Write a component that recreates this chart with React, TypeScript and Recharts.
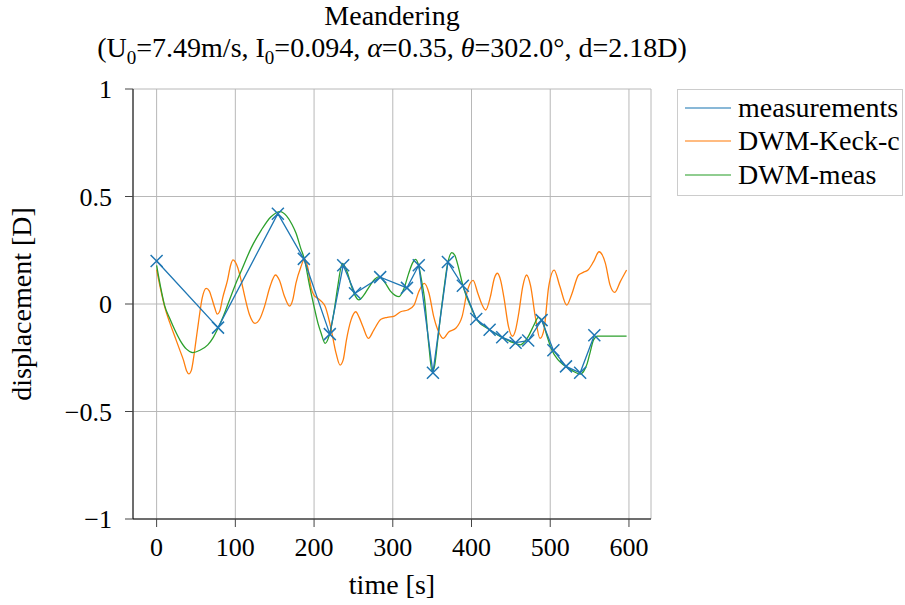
import React from 'react';
import { LineChart, Line, XAxis, YAxis, CartesianGrid } from 'recharts';

// measured displacement (crosses)
const measTime = [0, 78, 154, 187, 220, 237, 252, 284, 318, 333, 351, 370, 389, 406, 423, 439, 456, 472, 489, 504, 520, 538, 556];
const measValue = [0.2, -0.11, 0.42, 0.21, -0.14, 0.18, 0.05, 0.125, 0.075, 0.18, -0.32, 0.195, 0.085, -0.07, -0.12, -0.155, -0.18, -0.17, -0.075, -0.215, -0.29, -0.32, -0.145];

// DWM-Keck-c
const keckTime = [0, 5, 10, 17, 23, 29, 34, 38, 41, 44, 47, 50, 53, 58, 63, 67, 70, 74, 77, 80, 84, 90, 94, 97, 100, 103, 108, 112, 118, 125, 131, 137, 144, 151, 156, 162, 169, 173, 177, 183, 188, 192, 196, 200, 205, 210, 214, 221, 228, 233, 237, 241, 247, 253, 257, 262, 269, 276, 285, 293, 302, 310, 319, 327, 333, 340, 346, 352, 359, 364, 371, 380, 388, 395, 402, 408, 413, 418, 424, 429, 433, 437, 441, 447, 452, 456, 460, 465, 470, 475, 481, 487, 492, 498, 505, 512, 521, 527, 536, 542, 548, 555, 562, 570, 576, 582, 589, 597];
const keckValue = [0.16, 0.07, -0.01, -0.09, -0.15, -0.21, -0.26, -0.31, -0.325, -0.31, -0.25, -0.17, -0.09, 0.03, 0.073, 0.06, 0.028, -0.02, -0.047, -0.035, 0.03, 0.11, 0.18, 0.205, 0.195, 0.17, 0.1, 0.034, -0.05, -0.09, -0.07, -0.012, 0.08, 0.135, 0.11, 0.04, -0.01, 0.02, 0.097, 0.17, 0.21, 0.17, 0.08, 0.04, 0.026, 0.01, -0.01, -0.105, -0.23, -0.284, -0.26, -0.17, -0.074, -0.036, -0.06, -0.105, -0.16, -0.12, -0.071, -0.062, -0.056, -0.036, -0.028, -0.005, 0.057, 0.096, 0.05, -0.059, -0.136, -0.16, -0.13, -0.113, -0.059, 0.065, 0.11, 0.05, 0.0, -0.028, 0.034, 0.12, 0.143, 0.11, 0.034, -0.105, -0.15, -0.12, -0.043, 0.08, 0.135, 0.085, -0.059, -0.16, -0.12, 0.08, 0.158, 0.085, -0.005, 0.042, 0.135, 0.147, 0.158, 0.197, 0.243, 0.19, 0.088, 0.054, 0.104, 0.158];

// DWM-meas
const dwmTime = [0, 5, 10, 17, 23, 30, 38, 46, 55, 65, 72, 78, 85, 91, 100, 108, 120, 133, 145, 157, 165, 172, 177, 183, 188, 194, 200, 205, 209, 214, 218, 221, 226, 230, 236, 242, 247, 252, 257, 263, 270, 277, 283, 290, 297, 303, 308, 314, 320, 325, 329, 333, 337, 340, 346, 350, 353, 357, 361, 365, 369, 375, 379, 382, 390, 399, 407, 420, 437, 453, 462, 472, 479, 485, 491, 496, 502, 510, 517, 528, 538, 543, 547, 551, 555, 560, 597];
const dwmValue = [0.18, 0.08, -0.005, -0.07, -0.12, -0.17, -0.21, -0.226, -0.215, -0.19, -0.155, -0.113, -0.055, 0.003, 0.09, 0.158, 0.26, 0.344, 0.405, 0.43, 0.41, 0.37, 0.33, 0.26, 0.205, 0.09, -0.012, -0.09, -0.136, -0.183, -0.16, -0.12, -0.02, 0.08, 0.189, 0.15, 0.088, 0.04, 0.019, 0.04, 0.08, 0.115, 0.127, 0.1, 0.06, 0.04, 0.034, 0.07, 0.14, 0.19, 0.208, 0.177, 0.1, 0.034, -0.2, -0.315, -0.29, -0.17, -0.043, 0.07, 0.174, 0.239, 0.225, 0.19, 0.073, -0.012, -0.074, -0.113, -0.152, -0.18, -0.19, -0.152, -0.1, -0.062, -0.09, -0.15, -0.214, -0.26, -0.284, -0.31, -0.326, -0.31, -0.276, -0.22, -0.167, -0.149, -0.149];

const xTicks = [0, 100, 200, 300, 400, 500, 600];
const yTicks = [-1, -0.5, 0, 0.5, 1];

const seriesNames = ['measurements', 'DWM-Keck-c', 'DWM-meas'];
const seriesColors = ['#1f77b4', '#ff7f0e', '#2ca02c'];

const measData = measTime.map((t, i) => ({ t, v: measValue[i] }));
const keckData = keckTime.map((t, i) => ({ t, v: keckValue[i] }));
const dwmData = dwmTime.map((t, i) => ({ t, v: dwmValue[i] }));

const FONT = '"Liberation Serif", "Times New Roman", "DejaVu Serif", serif';

const Cross = (props: any) => {
  const { cx, cy } = props;
  if (cx == null || cy == null) return null;
  const s = 6;
  return (
    <path
      d={`M${cx - s},${cy - s}L${cx + s},${cy + s}M${cx - s},${cy + s}L${cx + s},${cy - s}`}
      stroke={seriesColors[0]}
      strokeWidth={1.5}
      fill="none"
    />
  );
};

const fmt = (v: number) => (v < 0 ? '\u2212' + Math.abs(v) : String(v));

export default function App() {
  return (
    <div style={{ position: 'absolute', left: 0, top: 0, width: 905, height: 605, background: '#fff', fontFamily: FONT, color: '#000' }}>
      <div
        style={{
          position: 'absolute',
          left: 0,
          width: 784,
          top: 0,
          textAlign: 'center',
          fontSize: 28,
          lineHeight: '32px',
        }}
      >
        <div>Meandering</div>
        <div>
          (U<sub style={{ fontSize: 19 }}>0</sub>=7.49m/s, I<sub style={{ fontSize: 19 }}>0</sub>=0.094, <i>α</i>=0.35, <i>θ</i>=302.0°, d=2.18D)
        </div>
      </div>
      <LineChart
        width={905}
        height={605}
        margin={{ top: 89, right: 254, bottom: 0, left: 0 }}
        style={{ position: 'absolute', left: 0, top: 0 }}
      >
        <CartesianGrid stroke="#b8b8b8" strokeWidth={1} />
        <XAxis
          type="number"
          dataKey="t"
          domain={[-30, 628]}
          ticks={xTicks}
          allowDataOverflow
          height={86}
          tickSize={8}
          tickMargin={11}
          tickLine={{ stroke: '#444' }}
          axisLine={{ stroke: '#000' }}
          tick={{ fill: '#000', fontSize: 26, fontFamily: FONT }}
        />
        <XAxis xAxisId="top" type="number" dataKey="t" orientation="top" domain={[-30, 628]} height={0} tick={false} tickLine={false} axisLine={{ stroke: '#000' }} />
        <YAxis
          type="number"
          dataKey="v"
          domain={[-1, 1]}
          ticks={yTicks}
          width={133}
          tickSize={8}
          tickMargin={13}
          tickFormatter={fmt}
          tickLine={{ stroke: '#444' }}
          axisLine={{ stroke: '#000' }}
          tick={{ fill: '#000', fontSize: 26, fontFamily: FONT }}
        />
        <YAxis yAxisId="right" orientation="right" domain={[-1, 1]} width={0} tick={false} tickLine={false} axisLine={{ stroke: '#000' }} />
        <Line
          data={keckData}
          dataKey="v"
          name={seriesNames[1]}
          type="monotone"
          stroke={seriesColors[1]}
          strokeWidth={1.3}
          dot={false}
          isAnimationActive={false}
        />
        <Line
          data={dwmData}
          dataKey="v"
          name={seriesNames[2]}
          type="monotone"
          stroke={seriesColors[2]}
          strokeWidth={1.3}
          dot={false}
          isAnimationActive={false}
        />
        <Line
          data={measData}
          dataKey="v"
          name={seriesNames[0]}
          type="linear"
          stroke={seriesColors[0]}
          strokeWidth={1.3}
          dot={<Cross />}
          isAnimationActive={false}
        />
      </LineChart>
      <div
        style={{
          position: 'absolute',
          left: 677,
          top: 89,
          width: 226,
          height: 107,
          border: '1px solid #cccccc',
          boxSizing: 'border-box',
          background: '#fff',
          padding: '1px 0 0 7px',
          fontSize: 28,
          whiteSpace: 'nowrap',
        }}
      >
        {seriesNames.map((name, i) => (
          <div key={name} style={{ display: 'flex', alignItems: 'center', height: 33.5 }}>
            <svg width={46} height={4} style={{ marginRight: 7 }}>
              <line x1={0} y1={2} x2={46} y2={2} stroke={seriesColors[i]} strokeWidth={1.3} strokeOpacity={0.7} />
            </svg>
            <span>{name}</span>
          </div>
        ))}
      </div>
      <div style={{ position: 'absolute', left: 292, width: 200, top: 569, textAlign: 'center', fontSize: 28, lineHeight: '32px' }}>
        time [s]
      </div>
      <div
        style={{
          position: 'absolute',
          left: 22 - 120,
          top: 304 - 16,
          width: 240,
          textAlign: 'center',
          fontSize: 28,
          lineHeight: '32px',
          transform: 'rotate(-90deg)',
        }}
      >
        displacement [D]
      </div>
    </div>
  );
}
